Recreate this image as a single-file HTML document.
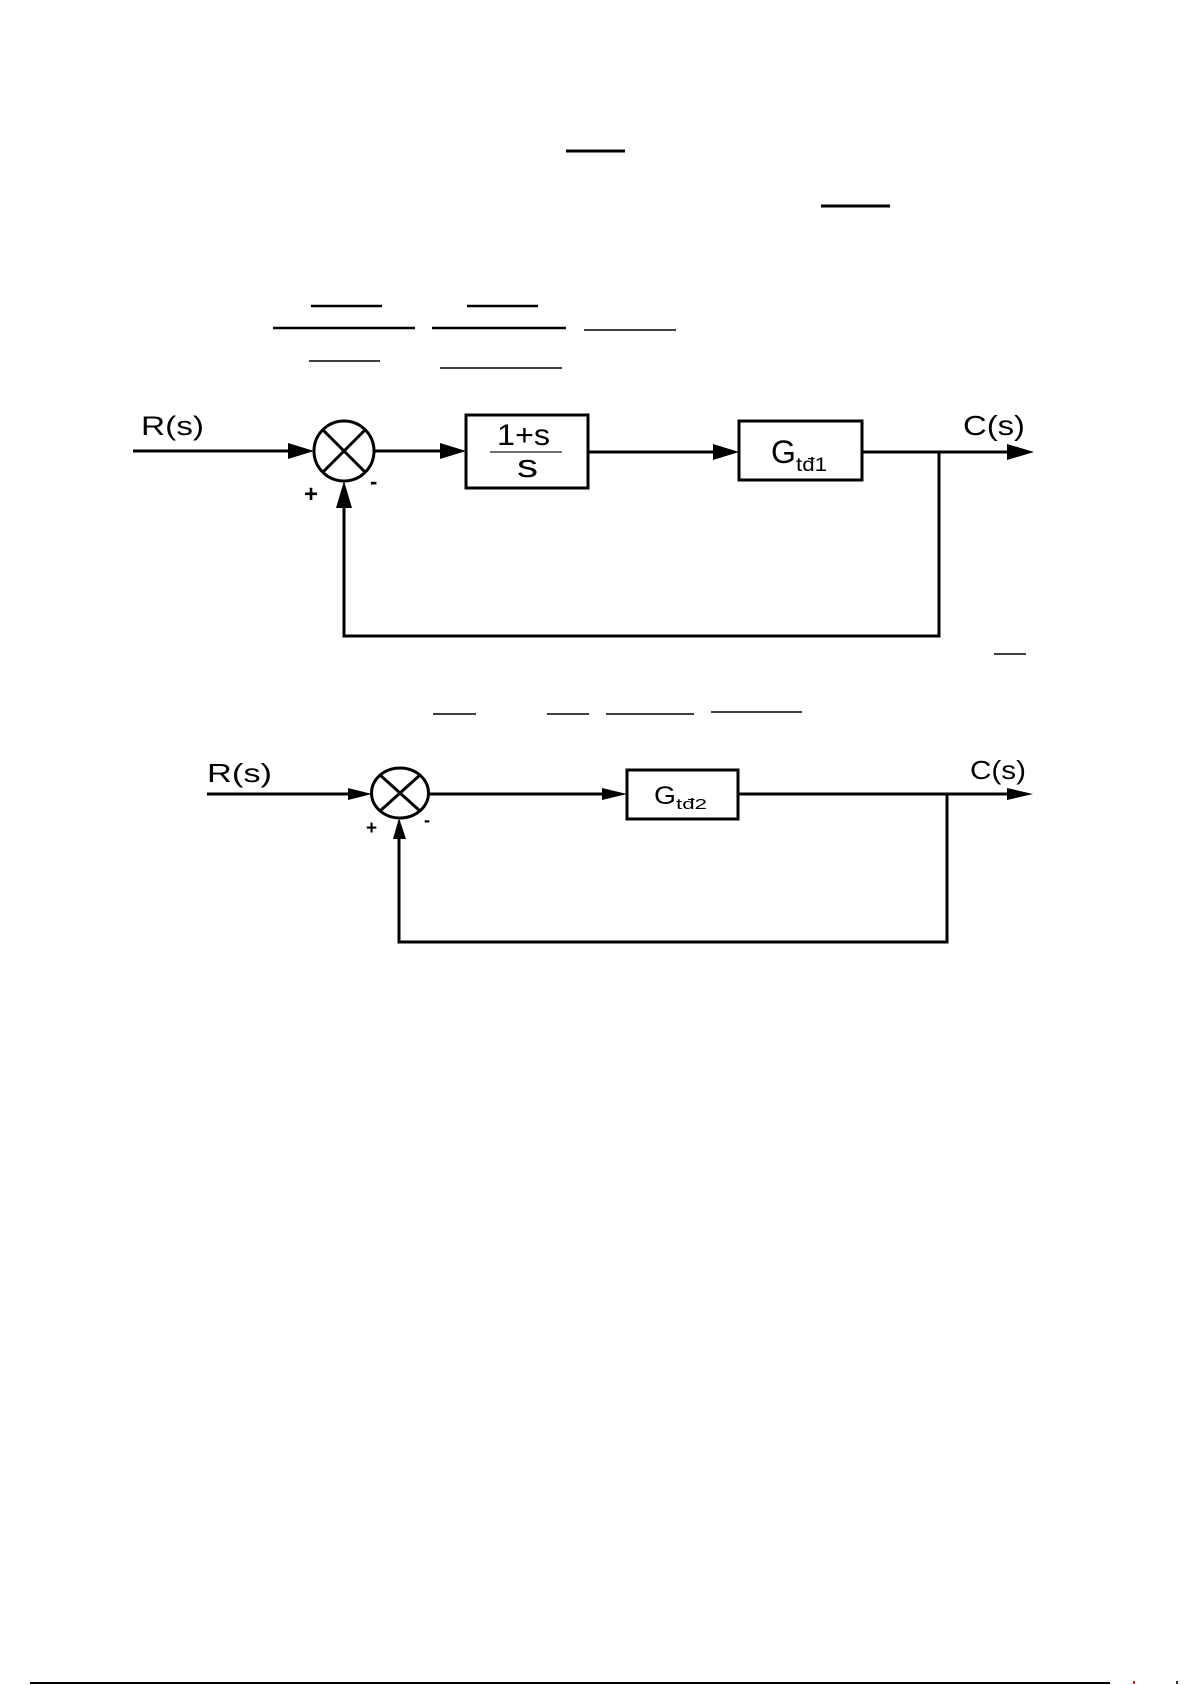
<!DOCTYPE html>
<html>
<head>
<meta charset="utf-8">
<style>
html,body{margin:0;padding:0;background:#fff;}
svg{display:block;}
text{font-family:"Liberation Sans",Arial,sans-serif;fill:#000;}
</style>
</head>
<body>
<svg width="1192" height="1685" viewBox="0 0 1192 1685" xmlns="http://www.w3.org/2000/svg">
<rect width="1192" height="1685" fill="#fff"/>

<!-- fraction bars from equations (text not visible) -->
<g stroke="#000" fill="none">
  <line x1="566" y1="151" x2="625" y2="151" stroke-width="3"/>
  <line x1="821" y1="206" x2="890" y2="206" stroke-width="3"/>
  <line x1="311" y1="306" x2="382" y2="306" stroke-width="2.5"/>
  <line x1="467" y1="306" x2="538" y2="306" stroke-width="2.5"/>
  <line x1="273" y1="328" x2="415" y2="328" stroke-width="2.5"/>
  <line x1="432" y1="328" x2="566" y2="328" stroke-width="2.5"/>
  <line x1="584" y1="330" x2="676" y2="330" stroke-width="1.5"/>
  <line x1="309" y1="361" x2="380" y2="361" stroke-width="1.5"/>
  <line x1="440" y1="368" x2="562" y2="368" stroke-width="1.5"/>
  <line x1="994" y1="654" x2="1026" y2="654" stroke-width="1.5"/>
  <line x1="433" y1="714" x2="476" y2="714" stroke-width="1.5"/>
  <line x1="547" y1="714" x2="589" y2="714" stroke-width="1.5"/>
  <line x1="606" y1="714" x2="694" y2="714" stroke-width="1.5"/>
  <line x1="711" y1="712" x2="802" y2="712" stroke-width="1.5"/>
</g>

<!-- ===== Diagram 1 ===== -->
<text x="141" y="435" font-size="27" textLength="63" lengthAdjust="spacingAndGlyphs">R(s)</text>
<g stroke="#000" stroke-width="3" fill="none">
  <line x1="133" y1="451" x2="300" y2="451"/>
  <circle cx="344" cy="451" r="30"/>
  <line x1="323" y1="430" x2="365" y2="472"/>
  <line x1="365" y1="430" x2="323" y2="472"/>
  <line x1="374" y1="451" x2="445" y2="451"/>
  <rect x="466" y="415" width="122" height="73"/>
  <line x1="588" y1="452" x2="718" y2="452"/>
  <rect x="739" y="421" width="123" height="59"/>
  <line x1="862" y1="452" x2="1010" y2="452"/>
  <polyline points="939,452 939,636 344,636 344,500"/>
</g>
<line x1="490" y1="452" x2="562" y2="452" stroke="#444" stroke-width="1.5"/>
<g fill="#000">
  <polygon points="288,443 314,451 288,459"/>
  <polygon points="440,443 466,451 440,459"/>
  <polygon points="713,444 739,452 713,460"/>
  <polygon points="1007,444 1034,452 1007,460"/>
  <polygon points="336,508 344,481 352,508"/>
</g>
<text x="497" y="445" font-size="30" textLength="53" lengthAdjust="spacingAndGlyphs">1+s</text>
<text x="517" y="477" font-size="32" textLength="21" lengthAdjust="spacingAndGlyphs">s</text>
<text x="771" y="463" font-size="32">G</text>
<text x="796" y="471" font-size="19" textLength="31" lengthAdjust="spacingAndGlyphs">tđ1</text>
<text x="963" y="435" font-size="28" textLength="62" lengthAdjust="spacingAndGlyphs">C(s)</text>
<text x="304" y="502" font-size="24" font-weight="bold">+</text>
<text x="370" y="489" font-size="22" font-weight="bold">-</text>

<!-- ===== Diagram 2 ===== -->
<text x="207" y="782" font-size="26" textLength="65" lengthAdjust="spacingAndGlyphs">R(s)</text>
<g stroke="#000" stroke-width="3" fill="none">
  <line x1="207" y1="794" x2="352" y2="794"/>
  <ellipse cx="400" cy="793" rx="28.5" ry="25"/>
  <line x1="380" y1="775" x2="420" y2="811"/>
  <line x1="420" y1="775" x2="380" y2="811"/>
  <line x1="429" y1="794" x2="606" y2="794"/>
  <rect x="627" y="770" width="111" height="49"/>
  <line x1="738" y1="794" x2="1010" y2="794"/>
  <polyline points="947,794 947,942 399,942 399,834"/>
</g>
<g fill="#000">
  <polygon points="348,788 372,794 348,800"/>
  <polygon points="602,788 627,794 602,800"/>
  <polygon points="1007,788 1033,794 1007,800"/>
  <polygon points="393,839 399,818 406,839"/>
</g>
<text x="654" y="804" font-size="25" textLength="22" lengthAdjust="spacingAndGlyphs">G</text>
<text x="676" y="809" font-size="15" textLength="31" lengthAdjust="spacingAndGlyphs">tđ2</text>
<text x="970" y="779" font-size="26" textLength="56" lengthAdjust="spacingAndGlyphs">C(s)</text>
<text x="366" y="834" font-size="19" font-weight="bold">+</text>
<text x="424" y="826" font-size="18" font-weight="bold">-</text>

<!-- bottom page line -->
<line x1="30" y1="1683" x2="1110" y2="1683" stroke="#000" stroke-width="2"/>
<rect x="1133" y="1681" width="2" height="3" fill="#c33"/>
<rect x="1176" y="1681" width="2" height="3" fill="#333"/>
</svg>
</body>
</html>
